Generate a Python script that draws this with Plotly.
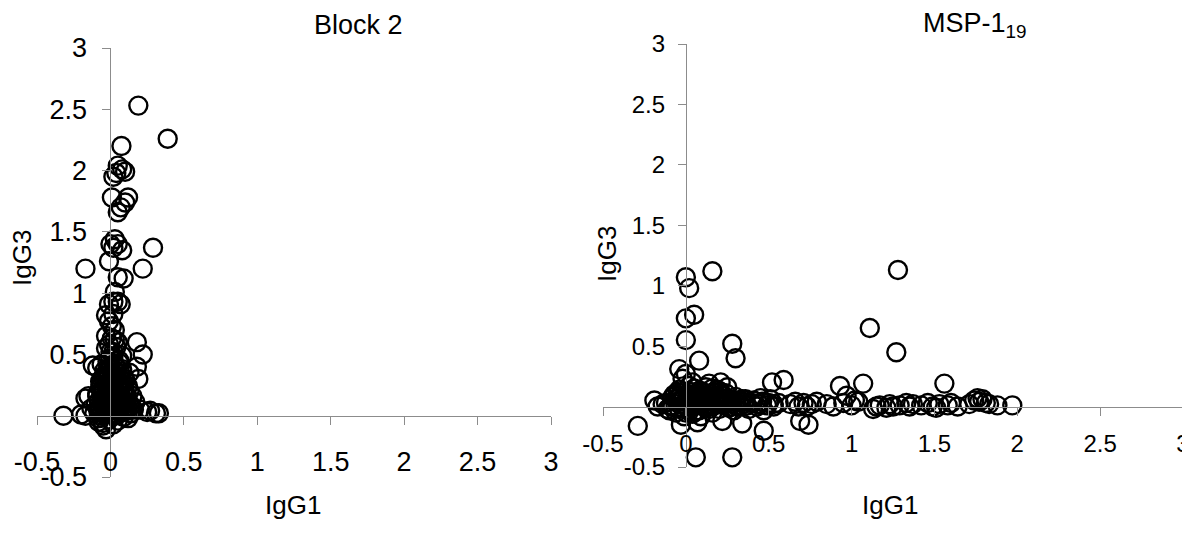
import plotly.graph_objects as go

# ---------------- data ----------------
# Block 2 (left panel): IgG1 (x) vs IgG3 (y)
block2_igg1 = [
    0.19, 0.39, 0.075, 0.05, 0.10, 0.02, 0.08, 0.04,
    0.01, 0.12, 0.07, 0.05, 0.10,
    0.03, 0.00, 0.02, 0.08, 0.05, 0.29,
    -0.17, 0.22, -0.01, 0.05, 0.09,
    0.03, 0.02, 0.07, -0.01, 0.05,
    -0.03, 0.02, -0.01, 0.01, 0.03,
    -0.03, 0.01, 0.05, 0.18, 0.22,
    -0.03, 0.02, 0.08, 0.00,
    -0.12, -0.09, 0.18, 0.19, -0.17, -0.15,
    -0.32, -0.20, -0.17, 0.27, 0.31, 0.33, 0.25, 0.15, 0.17,
    -0.05, -0.03, -0.08,
    -0.06, 0.04, 0.08, -0.04, 0.02, 0.10, -0.07, 0.00, 0.06, 0.12,
    -0.05, 0.03, 0.09, -0.09, -0.01, 0.05, 0.11, -0.06, 0.02, 0.08,
    0.13, -0.10, -0.03, 0.04, 0.10, -0.07, 0.00, 0.06, 0.14, -0.11,
    -0.04, 0.03, 0.09, -0.08, -0.01, 0.05, 0.12, -0.05, 0.02, 0.07,
    0.00, -0.02, 0.06, 0.13, 0.16, 0.20, -0.13,
    -0.08, -0.04, 0.00, 0.04, 0.08, 0.12, -0.06, -0.02, 0.02, 0.06, 0.10, 0.14,
    -0.09, -0.05, -0.01, 0.03, 0.07, 0.11, -0.07, -0.03, 0.01, 0.05, 0.09, 0.13,
    -0.06, -0.02, 0.02, 0.06, 0.10, -0.04, 0.00, 0.04, 0.08, -0.02, 0.02, 0.06,
    0.00, 0.04, -0.01, 0.03,
    -0.07, -0.03, 0.01, 0.05, 0.09, -0.05, -0.01, 0.03, 0.07, 0.11,
    -0.08, -0.04, 0.00, 0.04, 0.08, -0.06, -0.02, 0.02, 0.06, 0.10,
    -0.03, 0.01, 0.05, 0.09, -0.05, -0.01, 0.03, 0.07, 0.00, 0.04,
]
block2_igg3 = [
    2.53, 2.26, 2.20, 2.04, 1.99, 1.95, 2.01, 1.98,
    1.78, 1.78, 1.70, 1.66, 1.74,
    1.44, 1.40, 1.37, 1.35, 1.40, 1.37,
    1.20, 1.20, 1.26, 1.13, 1.12,
    1.01, 0.93, 0.91, 0.91, 0.93,
    0.82, 0.83, 0.77, 0.73, 0.70,
    0.65, 0.63, 0.60, 0.60, 0.50,
    0.55, 0.52, 0.49, 0.47,
    0.41, 0.39, 0.40, 0.30, 0.14, 0.16,
    0.00, 0.01, 0.00, 0.04, 0.02, 0.02, 0.03, 0.16, 0.11,
    -0.08, -0.11, -0.05,
    0.42, 0.40, 0.36, 0.33, 0.31, 0.30, 0.28, 0.26, 0.25, 0.24,
    0.22, 0.21, 0.20, 0.18, 0.17, 0.16, 0.15, 0.13, 0.12, 0.11,
    0.10, 0.09, 0.08, 0.07, 0.06, 0.05, 0.04, 0.03, 0.02, 0.02,
    0.01, 0.00, -0.01, -0.02, -0.03, -0.04, -0.02, -0.06, -0.07, 0.14,
    0.19, 0.37, 0.45, 0.35, 0.05, 0.05, 0.06,
    0.03, 0.05, 0.02, 0.06, 0.04, 0.07, 0.10, 0.12, 0.09, 0.13, 0.11, 0.08,
    0.16, 0.19, 0.15, 0.18, 0.21, 0.17, 0.23, 0.26, 0.24, 0.27, 0.22, 0.20,
    0.30, 0.33, 0.29, 0.32, 0.28, 0.37, 0.40, 0.35, 0.38, 0.44, 0.47, 0.43,
    0.52, 0.56, 0.58, 0.62,
    0.00, 0.02, 0.05, 0.01, 0.03, 0.08, 0.06, 0.10, 0.07, 0.04,
    0.12, 0.14, 0.11, 0.15, 0.13, 0.19, 0.21, 0.18, 0.16, 0.12,
    0.25, 0.28, 0.23, 0.26, 0.31, 0.34, 0.32, 0.29, 0.39, 0.36,
]

# MSP-1 19 (right panel): IgG1 (x) vs IgG3 (y)
msp_igg1 = [
    0.00, 0.02, 0.16, 1.28, 0.00, 0.05, 0.00, 0.28, 0.30, 0.08, -0.04, 0.00, 1.11, 1.27,
    0.52, 0.59, 0.93, 1.07, 0.97, 1.02, 1.56,
    -0.29, 0.06, 0.28, 0.69, 0.74, 0.34, 0.47, 0.07, -0.03, 0.22,
    0.14, 0.21, 0.25, -0.02, 0.04,
    -0.19, -0.17, -0.14, -0.11,
    -0.08, -0.05, -0.02, 0.01, 0.03, 0.05, 0.06, 0.08, 0.10, 0.11, 0.13, 0.15, 0.16, 0.18,
    0.19, -0.06, -0.01, 0.02, 0.09, 0.12, 0.17, 0.20, 0.23, 0.24, 0.26, 0.28, 0.30, 0.31,
    0.33, 0.35, -0.04, 0.00, 0.04, 0.07,
    0.37, 0.40, 0.43, 0.46, 0.49, 0.51, 0.53, 0.56, 0.63, 0.66, 0.68, 0.71, 0.73, 0.76,
    0.79, 0.85, 0.89, 0.95, 1.00, 1.04, 1.13, 1.15, 1.17, 1.21, 1.23, 1.25, 1.29, 1.33,
    1.35, 1.37, 1.42, 1.46, 1.49, 1.51, 1.53, 1.58, 1.60, 1.64, 1.71, 1.74, 1.76, 1.77,
    1.79, 1.81, 1.83, 1.88, 1.97,
    -0.12, -0.09, -0.06, -0.03, 0.00, 0.03, 0.06, 0.09, 0.12, 0.15, 0.18, 0.21, 0.24, 0.27, 0.30, 0.33,
    -0.10, -0.07, -0.04, -0.01, 0.02, 0.05, 0.08, 0.11, 0.14, 0.17, 0.20, 0.23, 0.26, 0.29, 0.32,
    -0.08, -0.02, 0.04, 0.10, 0.16, 0.22, 0.28, 0.34,
    0.38, 0.41, 0.44, 0.47, 0.50, 0.53, 0.36, 0.45,
    -0.09, -0.05, -0.01, 0.03, 0.07, 0.11, 0.15, 0.19, 0.23,
    -0.07, -0.03, 0.01, 0.05, 0.09, 0.13, 0.17, 0.21, 0.25,
    -0.04, 0.00, 0.04, 0.08, 0.12, 0.16, 0.20,
]
msp_igg3 = [
    1.07, 0.98, 1.12, 1.13, 0.73, 0.76, 0.55, 0.52, 0.40, 0.38, 0.31, 0.27, 0.65, 0.45,
    0.20, 0.22, 0.17, 0.19, 0.09, 0.05, 0.19,
    -0.16, -0.42, -0.42, -0.12, -0.15, -0.14, -0.20, -0.13, -0.15, -0.12,
    0.19, 0.20, 0.16, 0.23, 0.20,
    0.05, 0.00, 0.02, -0.02,
    0.08, 0.12, 0.05, 0.10, 0.02, 0.15, -0.04, 0.07, 0.12, 0.00, 0.05, 0.10, -0.05, 0.03,
    0.14, -0.05, -0.08, 0.17, -0.08, 0.16, 0.08, -0.02, 0.06, 0.11, -0.01, 0.04, 0.08, 0.00,
    0.05, 0.02, 0.02, 0.00, 0.05, 0.11,
    0.01, 0.03, 0.00, 0.04, 0.01, 0.06, 0.00, 0.03, 0.02, 0.04, 0.00, 0.03, 0.00, 0.02,
    0.04, 0.02, 0.00, 0.03, 0.01, 0.04, -0.02, 0.00, 0.01, -0.01, 0.02, 0.00, 0.01, 0.03,
    0.00, 0.02, 0.01, 0.03, 0.00, -0.01, 0.02, 0.01, 0.03, 0.00, 0.02, 0.05, 0.07, 0.04,
    0.06, 0.03, 0.02, 0.01, 0.01,
    0.03, 0.00, 0.06, 0.09, 0.04, 0.12, 0.01, 0.05, 0.08, 0.02, 0.06, 0.12, 0.03, 0.00, 0.04, 0.01,
    -0.03, 0.10, 0.14, 0.02, -0.04, 0.08, 0.13, 0.04, -0.02, 0.12, 0.08, 0.01, 0.05, -0.03, 0.04,
    0.00, 0.07, -0.06, 0.03, 0.15, 0.09, 0.02, 0.06,
    -0.02, 0.05, 0.02, -0.03, 0.03, 0.02, 0.06, 0.07,
    0.01, 0.04, 0.02, 0.07, 0.03, 0.06, 0.01, 0.04, 0.02,
    0.09, 0.11, 0.06, 0.10, 0.13, 0.09, 0.12, 0.10, 0.07,
    -0.02, -0.05, 0.00, -0.03, -0.01, 0.00, 0.03,
]

tick_vals = [-0.5, 0, 0.5, 1, 1.5, 2, 2.5, 3]
tick_text = ["-0.5", "0", "0.5", "1", "1.5", "2", "2.5", "3"]
ytick_vals = [-0.5, 0.5, 1, 1.5, 2, 2.5, 3]
ytick_text = ["-0.5", "0.5", "1", "1.5", "2", "2.5", "3"]
axis_range = [-0.5, 3]

# ---------------- figure ----------------
W, H = 1190, 538
FONT = "Arial, 'Liberation Sans', sans-serif"
OFF = 8  # page body margin offset

# panel pixel boxes (left, right, top, bottom) as seen in the page
L_box = (37 - OFF, 551 - OFF, 48 - OFF, 477 - OFF)
R_box = (603 - OFF, 1183 - OFF, 44 - OFF, 467 - OFF)


def dom_x(b):
    return [b[0] / W, b[1] / W]


def dom_y(b):
    return [(H - b[3]) / H, (H - b[2]) / H]


def zero_pos(dom):
    frac = (0 - axis_range[0]) / (axis_range[1] - axis_range[0])
    return dom[0] + frac * (dom[1] - dom[0])


fig = go.Figure()
marker = dict(symbol="circle-open", size=18, color="black", line=dict(width=2.4, color="black"))
fig.add_trace(go.Scatter(x=block2_igg1, y=block2_igg3, mode="markers", marker=marker,
                         xaxis="x", yaxis="y", showlegend=False, cliponaxis=False))
fig.add_trace(go.Scatter(x=msp_igg1, y=msp_igg3, mode="markers", marker=marker,
                         xaxis="x2", yaxis="y2", showlegend=False, cliponaxis=False))

common = dict(range=axis_range, showgrid=False, zeroline=False, showline=True,
              linecolor="#8c8c8c", linewidth=1, ticks="outside", ticklen=8,
              tickcolor="#8c8c8c", tickwidth=1, anchor="free", fixedrange=True,
              automargin=False)

lxd, lyd = dom_x(L_box), dom_y(L_box)
rxd, ryd = dom_x(R_box), dom_y(R_box)

fig.update_layout(
    width=W, height=H,
    margin=dict(l=0, r=0, t=0, b=0, pad=0, autoexpand=False),
    paper_bgcolor="white", plot_bgcolor="rgba(0,0,0,0)",
    font=dict(family=FONT, color="black"),
    xaxis=dict(domain=lxd, position=zero_pos(lyd), tickvals=tick_vals, ticktext=tick_text,
               tickfont=dict(size=27, family=FONT, color="black"), ticklabelstandoff=14, **common),
    yaxis=dict(domain=lyd, position=zero_pos(lxd), tickvals=ytick_vals, ticktext=ytick_text,
               tickfont=dict(size=27, family=FONT, color="black"), ticklabelstandoff=10, **common),
    xaxis2=dict(domain=rxd, position=zero_pos(ryd), tickvals=tick_vals, ticktext=tick_text,
                tickfont=dict(size=24, family=FONT, color="black"), ticklabelstandoff=8, **common),
    yaxis2=dict(domain=ryd, position=zero_pos(rxd), tickvals=ytick_vals, ticktext=ytick_text,
                tickfont=dict(size=24, family=FONT, color="black"), ticklabelstandoff=8, **common),
)


def ann(text, x, y, size, angle=0):
    fig.add_annotation(text=text, x=(x - OFF) / W, y=1 - (y - OFF) / H, xref="paper", yref="paper",
                       showarrow=False, xanchor="center", yanchor="middle", textangle=angle,
                       font=dict(family=FONT, size=size, color="black"))


ann("Block 2", 358, 25, 27)
ann("MSP-1<sub>19</sub>", 975, 25, 27)
ann("IgG1", 293, 505, 26)
ann("IgG1", 890, 505, 26)
ann("IgG3", 22, 258, 26, -90)
ann("IgG3", 607, 254, 26, -90)

fig.write_html("out.html")
